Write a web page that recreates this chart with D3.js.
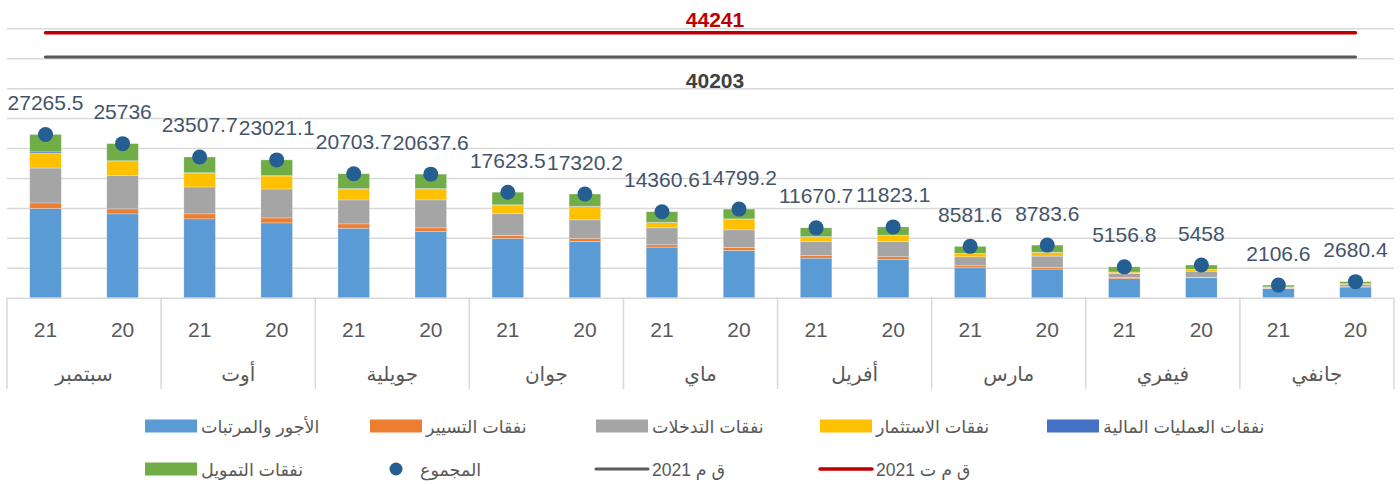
<!DOCTYPE html>
<html>
<head>
<meta charset="utf-8">
<script src="https://cdn.jsdelivr.net/npm/d3@7"></script>
<style>
  html, body { margin: 0; padding: 0; background: #ffffff; }
  svg { display: block; }
</style>
</head>
<body>
<div id="chart"></div>
<script>
// ---------------- DATA ----------------
const months = ["سبتمبر", "أوت", "جويلية", "جوان", "ماي", "أفريل", "مارس", "فيفري", "جانفي"];
const years = ["21", "20"];

const wages         = [14900, 14000, 13170, 12500, 11610, 11060, 9900, 9400, 8450, 7900, 6610, 6400, 5000, 4780, 3170, 3330, 1500, 1780];
const operating     = [930, 830, 830, 830, 720, 610, 500, 500, 390, 500, 440, 440, 330, 280, 220, 100, 80, 80];
const interventions = [5830, 5610, 4500, 4830, 4000, 4670, 3670, 3100, 2830, 2930, 2330, 2560, 1500, 1890, 670, 1000, 170, 380];
const investment    = [2500, 2330, 2280, 2170, 1830, 1830, 1390, 2230, 890, 1780, 780, 1000, 560, 610, 220, 280, 50, 100];
const financialOps  = [200, 100, 100, 80, 80, 60, 60, 60, 50, 60, 50, 50, 30, 30, 20, 20, 10, 10];
const financing     = [2905, 2866, 2628, 2611, 2464, 2408, 2104, 2030, 1751, 1629, 1461, 1373, 1162, 1194, 857, 728, 297, 330];
const totals        = [27265.5, 25736, 23507.7, 23021.1, 20703.7, 20637.6, 17623.5, 17320.2, 14360.6, 14799.2, 11670.7, 11823.1, 8581.6, 8783.6, 5156.8, 5458, 2106.6, 2680.4];

const budget2021 = 44241;      // ق م ت 2021
const law2021 = 40203;         // ق م 2021

const seriesNames = ["الأجور والمرتبات", "نفقات التسيير", "نفقات التدخلات", "نفقات الاستثمار", "نفقات العمليات المالية", "نفقات التمويل"];
const seriesKeys = ["wages", "operating", "interventions", "investment", "financialOps", "financing"];
const seriesColors = ["#5B9BD5", "#ED7D31", "#A5A5A5", "#FFC000", "#4472C4", "#70AD47"];
const totalName = "المجموع";
const lawName = "ق م 2021";
const budgetName = "ق م ت 2021";
const yTicks = [0, 5000, 10000, 15000, 20000, 25000, 30000, 35000, 40000, 45000];

// ---------------- BUILD ----------------
const rows = [];
months.forEach((m, mi) => {
  years.forEach((y, yi) => {
    const i = mi * 2 + yi;
    rows.push({
      id: i, month: m, year: y,
      wages: wages[i], operating: operating[i], interventions: interventions[i],
      investment: investment[i], financialOps: financialOps[i], financing: financing[i],
      total: totals[i]
    });
  });
});

const W = 1400, H = 484;
const plotLeft = 7, plotRight = 1394;
const yTop = 28.3, yBottom = 297.7;

const svg = d3.select("#chart").append("svg").attr("width", W).attr("height", H);

const x = d3.scaleBand().domain(rows.map(d => d.id)).range([plotLeft, plotRight])
  .paddingInner(0.59).paddingOuter(0.295);
const xGroup = d3.scaleBand().domain(months).range([plotLeft, plotRight]).padding(0);
const y = d3.scaleLinear().domain([0, 45000]).range([yBottom, yTop]);
const cx = d => x(d.id) + x.bandwidth() / 2;

const gridColor = "#D9D9D9";
const numFont = "'Liberation Sans', Arial, 'DejaVu Sans', sans-serif";

// gridlines via axis
const yAxis = d3.axisLeft(y).tickValues(yTicks).tickSize(-(plotRight - plotLeft)).tickFormat("");
const gy = svg.append("g").attr("transform", `translate(${plotLeft},0)`).call(yAxis);
gy.select(".domain").remove();
gy.selectAll(".tick line").attr("stroke", gridColor).attr("stroke-width", 1.5);

// category separators
const sepG = svg.append("g");
const bounds = months.map(m => xGroup(m)).concat([plotRight]);
sepG.selectAll("line").data(bounds).join("line")
  .attr("x1", d => d).attr("x2", d => d)
  .attr("y1", yBottom).attr("y2", 389)
  .attr("stroke", gridColor).attr("stroke-width", 1.5);

// stacked bars
const stack = d3.stack().keys(seriesKeys);
const stacked = stack(rows);
const barG = svg.append("g");
stacked.forEach((layer, li) => {
  barG.append("g").attr("fill", seriesColors[li])
    .selectAll("rect").data(layer).join("rect")
    .attr("x", d => x(d.data.id))
    .attr("width", x.bandwidth())
    .attr("y", d => y(d[1]))
    .attr("height", d => Math.max(0, y(d[0]) - y(d[1])))
    .attr("stroke", "#ffffff").attr("stroke-width", 0.6).attr("stroke-opacity", 0.45);
});

// horizontal reference lines (line series across categories)
const lineGen = d3.line().x(d => cx(d)).y(d => d.v);
svg.append("path")
  .datum(rows.map(r => ({ id: r.id, v: y(budget2021) })))
  .attr("d", lineGen).attr("fill", "none").attr("stroke", "#C00000").attr("stroke-width", 3.5)
  .attr("stroke-linecap", "round");
svg.append("path")
  .datum(rows.map(r => ({ id: r.id, v: y(law2021) })))
  .attr("d", lineGen).attr("fill", "none").attr("stroke", "#595959").attr("stroke-width", 3.2)
  .attr("stroke-linecap", "round");

svg.append("text").attr("x", 715).attr("y", y(budget2021) - 6)
  .attr("text-anchor", "middle").attr("font-family", numFont).attr("font-weight", "bold")
  .attr("font-size", 21).attr("fill", "#C00000").text(budget2021);
svg.append("text").attr("x", 715).attr("y", y(law2021) + 30.5)
  .attr("text-anchor", "middle").attr("font-family", numFont).attr("font-weight", "bold")
  .attr("font-size", 21).attr("fill", "#404040").text(law2021);

// total dots
svg.append("g").selectAll("circle").data(rows).join("circle")
  .attr("cx", d => cx(d)).attr("cy", d => y(d.total)).attr("r", 7.5)
  .attr("fill", "#255E91");

// total labels
svg.append("g").selectAll("text").data(rows).join("text")
  .attr("x", d => cx(d)).attr("y", d => y(d.total) - 24.5)
  .attr("text-anchor", "middle").attr("font-family", numFont).attr("font-size", 21)
  .attr("fill", "#44546A").text(d => d.total);

// category labels: years
svg.append("g").selectAll("text").data(rows).join("text")
  .attr("x", d => cx(d)).attr("y", 337)
  .attr("text-anchor", "middle").attr("font-family", numFont).attr("font-size", 21)
  .attr("fill", "#595959").text(d => d.year);

// category labels: months
svg.append("g").selectAll("text").data(months).join("text")
  .attr("x", m => xGroup(m) + xGroup.bandwidth() / 2).attr("y", 381)
  .attr("text-anchor", "middle").attr("font-family", "'DejaVu Sans', sans-serif").attr("font-size", 20)
  .attr("fill", "#595959").text(m => m);

// ---------------- LEGEND ----------------
const legendFont = "'Liberation Sans', 'DejaVu Sans', sans-serif";
const slots = [145, 370, 596, 820, 1047];
const row1 = 426, row2 = 469;
const RLI = "\u2067", PDI = "\u2069";
const leg = svg.append("g");

const legendItems = [];
for (let i = 0; i < 5; i++) legendItems.push({ type: "rect", name: seriesNames[i], color: seriesColors[i], x: slots[i], y: row1 });
legendItems.push({ type: "rect", name: seriesNames[5], color: seriesColors[5], x: slots[0], y: row2 });
legendItems.push({ type: "dot", name: totalName, color: "#255E91", x: slots[1], y: row2 });
legendItems.push({ type: "line", name: lawName, color: "#595959", x: slots[2], y: row2 });
legendItems.push({ type: "line", name: budgetName, color: "#C00000", x: slots[3], y: row2 });

legendItems.forEach(it => {
  const g = leg.append("g");
  let tx = it.x + 56;
  if (it.type === "rect") {
    g.append("rect").attr("x", it.x).attr("y", it.y - 6.5).attr("width", 52).attr("height", 13).attr("fill", it.color);
  } else if (it.type === "dot") {
    g.append("circle").attr("cx", it.x + 26).attr("cy", it.y).attr("r", 6.5).attr("fill", it.color);
    tx = it.x + 50;
  } else {
    g.append("line").attr("x1", it.x).attr("x2", it.x + 52).attr("y1", it.y).attr("y2", it.y)
      .attr("stroke", it.color).attr("stroke-width", it.color === "#C00000" ? 3.5 : 3).attr("stroke-linecap", "round");
  }
  g.append("text").attr("x", tx).attr("y", it.y + 6.5)
    .attr("font-family", legendFont).attr("font-size", 17.5).attr("fill", "#595959")
    .text(RLI + it.name + PDI);
});
</script>
</body>
</html>
